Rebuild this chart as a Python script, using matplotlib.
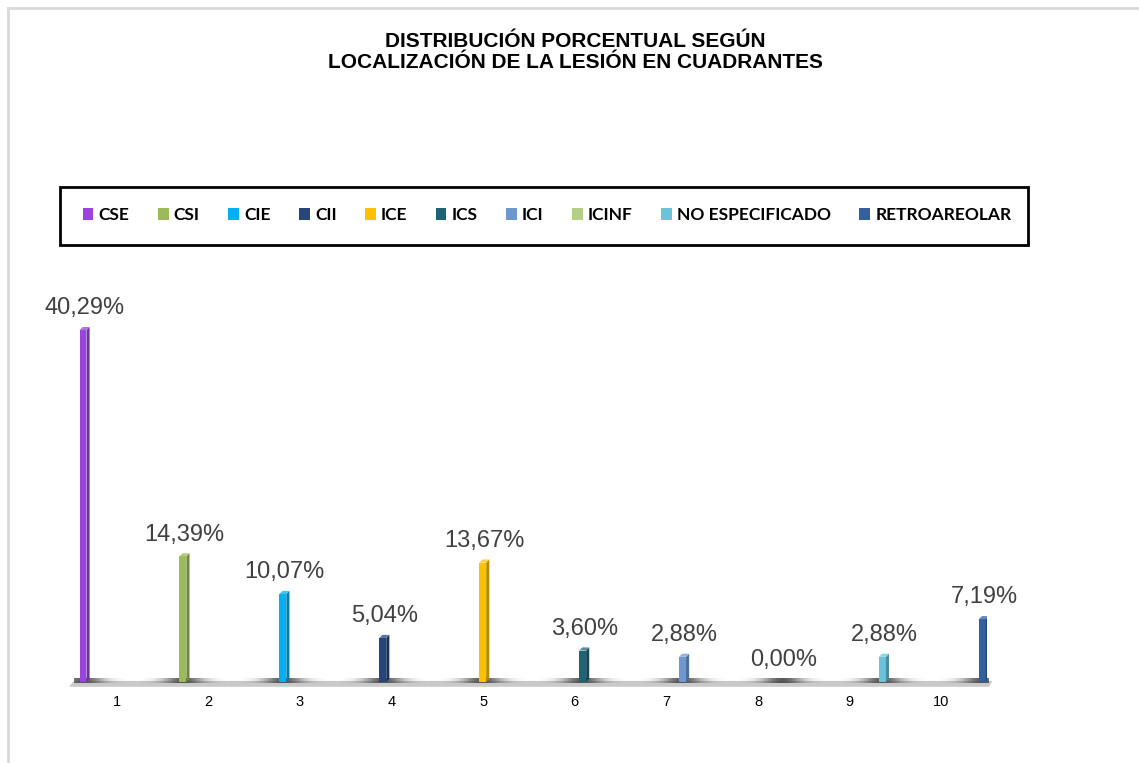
import numpy as np
import matplotlib
matplotlib.use("Agg")
import matplotlib.pyplot as plt
from matplotlib.patches import Polygon, Rectangle
from matplotlib.lines import Line2D

categories = ["1", "2", "3", "4", "5", "6", "7", "8", "9", "10"]
series = ["CSE", "CSI", "CIE", "CII", "ICE", "ICS", "ICI", "ICINF",
          "NO ESPECIFICADO", "RETROAREOLAR"]
values = [40.29, 14.39, 10.07, 5.04, 13.67, 3.60, 2.88, 0.00, 2.88, 7.19]
colors = ["#9B42DF", "#9BBB59", "#00B0F0", "#26457A", "#FFC000",
          "#1F6475", "#7098D0", "#B2CF84", "#6AC3D9", "#32609F"]
title = "DISTRIBUCIÓN PORCENTUAL SEGÚN\nLOCALIZACIÓN DE LA LESIÓN EN CUADRANTES"

W, H = 1139, 763
fig = plt.figure(figsize=(W / 100, H / 100), dpi=100)
fig.patch.set_facecolor("white")

# light gray chart-area border (top and left)
fig.add_artist(Line2D([8 / W, 1], [1 - 8 / H, 1 - 8 / H], color="#d9d9d9", lw=2,
                      transform=fig.transFigure))
fig.add_artist(Line2D([8 / W, 8 / W], [0, 1 - 8 / H], color="#d9d9d9", lw=2,
                      transform=fig.transFigure))

ax = fig.add_axes([71 / W, (H - 682) / H, 916 / W, 393 / H])
ax.set_xlim(0.5, 10.5)
ax.set_ylim(0, 45)
ax.axis("off")

def darker(c, f):
    r, g, b = matplotlib.colors.to_rgb(c)
    return (r * f, g * f, b * f)

def lighter(c, f):
    r, g, b = matplotlib.colors.to_rgb(c)
    return (r + (1 - r) * f, g + (1 - g) * f, b + (1 - b) * f)

n = len(series)
xcat = np.arange(1, n + 1)
bw = 0.076
dx = 0.034
dy = 0.36

# floor strip
floor = Polygon([(0.48, -0.55), (10.52, -0.55), (10.56, 0.12), (0.53, 0.12)],
                closed=True, facecolor="#c9c9c9", edgecolor="none", clip_on=False, zorder=1)
ax.add_patch(floor)

# shadows on the floor
for i in range(n):
    xc = xcat[i] + (i - 4.5) / 11 + 0.04
    lo, hi = max(xc - 0.45, 0.53), min(xc + 0.45, 10.52)
    g = np.linspace((lo - xc) / 0.45, (hi - xc) / 0.45, 200)
    prof = np.exp(-(g * 2.0) ** 2) * 0.85
    rgba = np.zeros((1, 200, 4))
    rgba[..., :3] = 0.25
    rgba[0, :, 3] = prof
    ax.imshow(rgba, extent=[lo, hi, -0.1, 0.45], aspect="auto",
              zorder=2, clip_on=False, interpolation="bilinear")

for i in range(n):
    x = xcat[i] + (i - 4.5) / 11 + 0.04
    v = values[i]
    if v > 0:
        ax.bar(x, v, width=bw, color=colors[i], zorder=3, edgecolor="none")
        x1 = x + bw / 2
        side = Polygon([(x1, 0), (x1 + dx, dy), (x1 + dx, v + dy), (x1, v)], closed=True,
                       facecolor=darker(colors[i], 0.72), edgecolor="none", zorder=3)
        ax.add_patch(side)
        x0 = x - bw / 2
        top = Polygon([(x0, v), (x1, v), (x1 + dx, v + dy), (x0 + dx, v + dy)], closed=True,
                      facecolor=lighter(colors[i], 0.25), edgecolor="none", zorder=3)
        ax.add_patch(top)
    label = f"{v:.2f}%".replace(".", ",")
    ax.annotate(label, (x + dx / 2, v + dy), xytext=(0, 5.5), textcoords="offset points",
                ha="center", va="bottom", fontsize=17, color="#404040",
                family="Liberation Sans", zorder=4)

for i, c in enumerate(categories):
    ax.text(xcat[i], -1.45, c, ha="center", va="top", fontsize=10.5, color="black",
            family="Liberation Sans")

# title
fig.text(575 / W, 1 - 52 / H, title, ha="center", va="center", fontsize=15,
         fontweight="bold", family="Liberation Sans", linespacing=1.08)

# legend
handles = [Rectangle((0, 0), 1, 1, facecolor=colors[i], edgecolor="none") for i in range(n)]
leg = fig.legend(handles, series, ncol=n, loc="center", bbox_to_anchor=(547 / W, 1 - 215 / H),
                 frameon=False, handlelength=0.62, handleheight=0.62, handletextpad=0.3,
                 columnspacing=1.63, borderpad=0,
                 prop={"family": "Lato", "weight": "bold", "size": 12.5})
fig.add_artist(Rectangle((60 / W, 1 - 245 / H), 968 / W, 58 / H, transform=fig.transFigure,
                         facecolor="none", edgecolor="black", lw=2))

fig.savefig("out.png", dpi=100)
